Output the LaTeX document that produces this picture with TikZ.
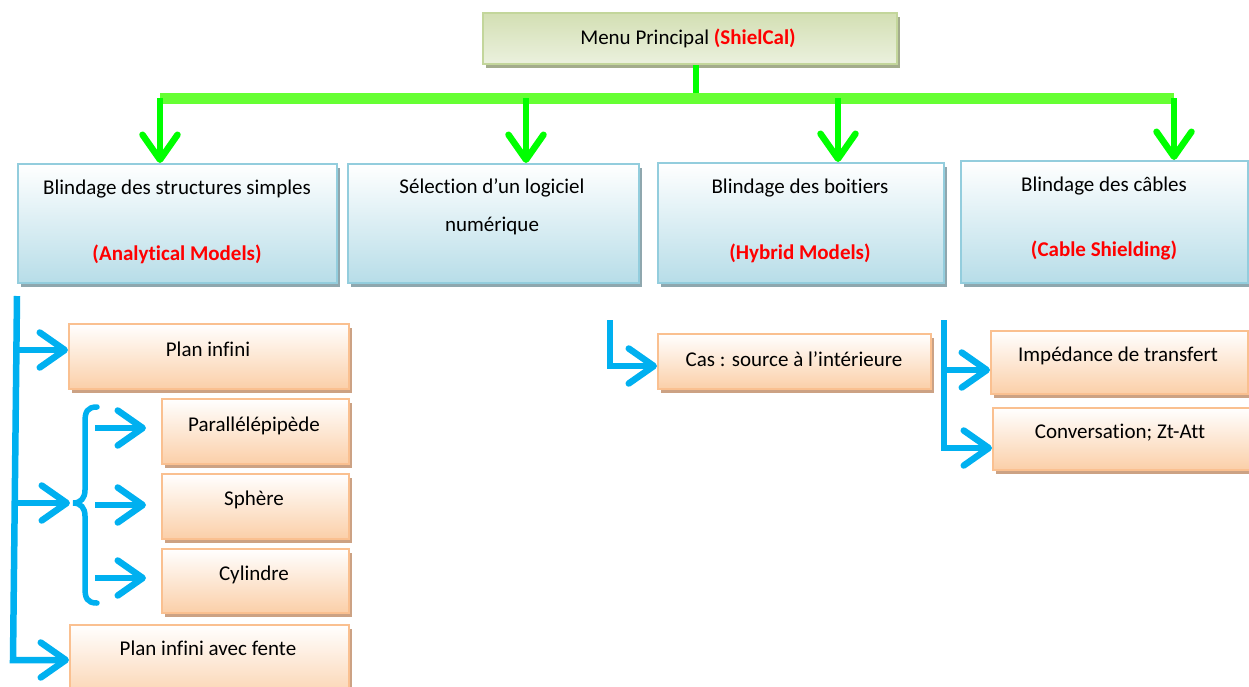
\documentclass[tikz,border=0pt]{standalone}
\usepackage{fontspec}
\setmainfont{Carlito}[Ligatures=NoCommon]
\usetikzlibrary{arrows.meta,shadows}
\definecolor{bborder}{HTML}{93CDDD}
\definecolor{bfill}{HTML}{B7DDE8}
\definecolor{bshadow}{HTML}{8FA7AE}
\definecolor{oborder}{HTML}{FAC090}
\definecolor{ofill}{HTML}{FBCFA8}
\definecolor{oshadow}{HTML}{CCA284}
\definecolor{gborder}{HTML}{C3D69B}
\definecolor{gfillA}{HTML}{D3DFB3}
\definecolor{gfillB}{HTML}{EBF1DE}
\definecolor{gshadow}{HTML}{A3AC8C}
\definecolor{gbarc}{HTML}{66FF33}
\definecolor{gstemc}{HTML}{00FF00}
\definecolor{bluec}{HTML}{00B0F0}
\definecolor{redc}{HTML}{FF0000}
\begin{document}
\begin{tikzpicture}[x=1pt,y=-1pt,font=\fontsize{21}{25}\selectfont,
  box/.style={rectangle,inner sep=0pt,line width=1.8pt,anchor=north west},
  bluebox/.style={box,draw=bborder,top color=white,bottom color=bfill,
    drop shadow={shadow xshift=3pt,shadow yshift=-4pt,fill=bshadow,opacity=1}},
  orangebox/.style={box,draw=oborder,top color=white,bottom color=ofill,
    drop shadow={shadow xshift=3pt,shadow yshift=-4pt,fill=oshadow,opacity=1}},
  greenbox/.style={box,draw=gborder,top color=gfillA,bottom color=gfillB,
    drop shadow={shadow xshift=3pt,shadow yshift=-4pt,fill=gshadow,opacity=1}},
  txt/.style={inner sep=0pt,text height=1.2em,text depth=0pt,anchor=center},
  rtxt/.style={txt,text=redc,font=\fontsize{21}{25}\selectfont\bfseries},
  gbar/.style={draw=gbarc,line width=11pt},
  gline/.style={draw=gstemc,line width=6.5pt},
  garrow/.style={gline,-{Straight Barb[round,length=25pt,width=35pt]}},
  bline/.style={draw=bluec,line width=6.5pt},
  barrow/.style={bline,-{Straight Barb[round,length=25pt,width=35pt]}},
  braceline/.style={draw=bluec,line width=5.5pt,line cap=round}]
\useasboundingbox (0,0) rectangle (1249,686);
\clip (0,0) rectangle (1249,686);
% top
\node[greenbox,minimum width=414pt,minimum height=51pt] (menu) at (482,12) {};
\node[txt] (menut) at (688,38) {Menu Principal \textcolor{redc}{\textbf{(ShielCal)}}};
% second row
\node[bluebox,minimum width=319pt,minimum height=119pt] (b1) at (17,163) {};
\node[bluebox,minimum width=291pt,minimum height=119pt] (b2) at (347,163) {};
\node[bluebox,minimum width=286pt,minimum height=120pt] (b3) at (657,162) {};
\node[bluebox,minimum width=287pt,minimum height=122pt] (b4) at (960,160) {};
\node[txt] (b1t) at (177,188) {Blindage des structures simples};
\node[rtxt] (b1r) at (177,254) {(Analytical Models)};
\node[txt] (b2t) at (492,187) {Sélection d’un logiciel};
\node[txt] (b2u) at (492,225) {numérique};
\node[txt] (b3t) at (800,187) {Blindage des boitiers};
\node[rtxt] (b3r) at (800,253) {(Hybrid Models)};
\node[txt] (b4t) at (1104,185) {Blindage des câbles};
\node[rtxt] (b4r) at (1104,250) {(Cable Shielding)};
% left column
\node[orangebox,minimum width=280pt,minimum height=65pt] (pi) at (68,323) {};
\node[orangebox,minimum width=187pt,minimum height=65pt] (pp) at (161,398) {};
\node[orangebox,minimum width=187pt,minimum height=65pt] (sp) at (161,473) {};
\node[orangebox,minimum width=187pt,minimum height=64pt] (cy) at (161,548) {};
\node[orangebox,minimum width=279pt,minimum height=80pt] (pf) at (69,624) {};
\node[txt] (pit) at (208,350) {Plan infini};
\node[txt] (ppt) at (254,425) {Parallélépipède};
\node[txt] (spt) at (254,499) {Sphère};
\node[txt] (cyt) at (254,574) {Cylindre};
\node[txt] (pft) at (208,649) {Plan infini avec fente};
% hybrid / cable
\node[orangebox,minimum width=273pt,minimum height=55pt] (cas) at (657,333) {};
\node[orangebox,minimum width=257pt,minimum height=63pt] (imp) at (990,330) {};
\node[orangebox,minimum width=257pt,minimum height=62pt] (conv) at (992,407) {};
\node[txt] (cast) at (794,360) {Cas : source à l’intérieure};
\node[txt] (impt) at (1118,355) {Impédance de transfert};
\node[txt] (convt) at (1120,432) {Conversation; Zt-Att};
% green connectors
\coordinate (gm) at (696,98);
\coordinate (g1) at (160,98);
\coordinate (g2) at (526,98);
\coordinate (g3) at (838,98);
\coordinate (g4) at (1174,98);
\draw[gline] (menu.south -| gm) -- (gm);
\draw[gbar] (g1) -- (g4);
\draw[garrow] (g1) -- (g1 |- b1.north);
\draw[garrow] (g2) -- (g2 |- b2.north);
\draw[garrow] (g3) -- (g3 |- b3.north);
\draw[garrow] (g4) -- (g4 |- b4.north);
% blue connectors, left
\coordinate (lt) at (17,296);
\coordinate (lb) at (13,660);
\coordinate (a1) at (16,350);
\coordinate (a2) at (15,503);
\coordinate (brtip) at (70,503);
\coordinate (bx1) at (95,428);
\coordinate (bx2) at (95,505);
\coordinate (bx3) at (95,578);
\draw[barrow] (lt) -- (lb) -- (lb -| pf.west);
\draw[barrow] (a1) -- (a1 -| pi.west);
\draw[barrow] (a2) -- (brtip);
\draw[braceline] (97,407) .. controls (87,407) and (85,412) .. (85,422) -- (85,490)
  .. controls (85,498) and (81,503) .. (73,503)
  .. controls (81,503) and (85,508) .. (85,516) -- (85,588)
  .. controls (85,598) and (87,603) .. (97,603);
\draw[barrow,shorten >=15pt] (bx1) -- (bx1 -| pp.west);
\draw[barrow,shorten >=15pt] (bx2) -- (bx2 -| sp.west);
\draw[barrow,shorten >=15pt] (bx3) -- (bx3 -| cy.west);
% hybrid
\coordinate (h1) at (610,320);
\coordinate (h2) at (610,366);
\draw[barrow] (h1) -- (h2) -- (h2 -| cas.west);
% cable
\coordinate (c1) at (944,320);
\coordinate (c2) at (944,370);
\coordinate (c3) at (944,448);
\draw[barrow] (c1) -- (c3) -- (c3 -| conv.west);
\draw[barrow] (c2) -- (c2 -| imp.west);
\end{tikzpicture}
\end{document}
